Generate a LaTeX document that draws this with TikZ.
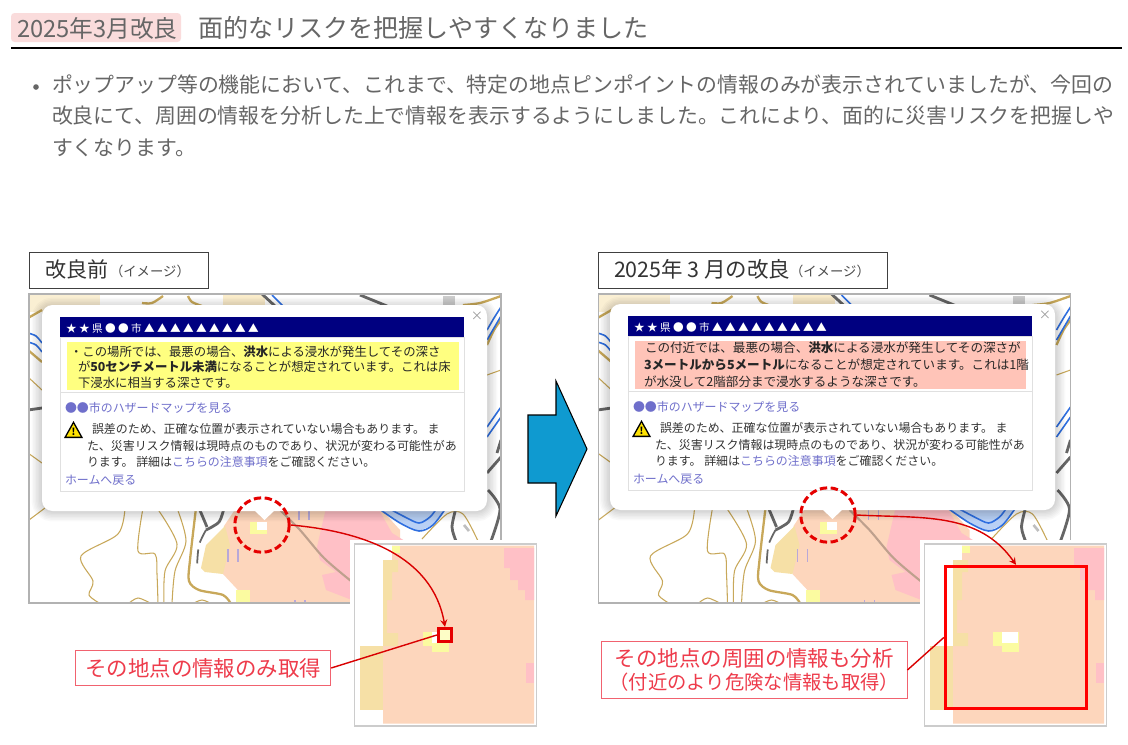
\documentclass[tikz,border=0pt]{standalone}
\usepackage{fontspec}
\setmainfont{Noto Sans CJK JP}
\usepackage{tikz}
\usetikzlibrary{positioning}
\definecolor{headgray}{HTML}{666666}
\definecolor{tagpink}{HTML}{FADCDC}
\definecolor{barnavy}{HTML}{000080}
\definecolor{linkblue}{HTML}{6F6FCB}
\definecolor{hlyellow}{HTML}{FFFF80}
\definecolor{hlpink}{HTML}{FFC4B8}
\definecolor{mapgold}{HTML}{C8A85A}
\definecolor{mapblue}{HTML}{2F6FE0}
\definecolor{maplblue}{HTML}{B9D0F5}
\definecolor{mapgray}{HTML}{666666}
\definecolor{mappeach}{HTML}{FDD6BC}
\definecolor{maptan}{HTML}{F6E0A6}
\definecolor{mappink}{HTML}{FFC0C6}
\definecolor{mapyellow}{HTML}{FBFBA0}
\definecolor{mapviolet}{HTML}{B8A8D8}
\definecolor{calloutred}{HTML}{EE3B4B}
\definecolor{arrowblue}{HTML}{0F9AD0}
\tikzset{
    txt/.style={anchor=base west,inner sep=0pt,outer sep=0pt},
    headtxt/.style={txt,text=headgray,font=\fontsize{14.26pt}{14.26pt}\selectfont},
    bodytxt/.style={txt,text=headgray,font=\fontsize{11.88pt}{11.88pt}\selectfont},
    poptxt/.style={txt,text=black!80,font=\fontsize{6.8pt}{6.8pt}\selectfont},
    hltxt/.style={txt,text=black!85,font=\fontsize{7.05pt}{7.05pt}\selectfont},
    linktxt/.style={poptxt,text=linkblue},
    labelbox/.style={draw=black!75,line width=0.55pt,anchor=north west,inner sep=0pt},
    contour/.style={draw=mapgold,line width=0.6pt},
    contourb/.style={draw=mapgold,line width=1.3pt},
    roadline/.style={draw=mapgray,line width=1.6pt},
    riverline/.style={draw=mapblue,line width=0.9pt},
    barline/.style={draw=mapviolet,line width=0.8pt},
    dashring/.style={draw=red!90!black,circle,line width=1.7pt,dash pattern=on 4.2pt off 2pt,minimum size=31pt,inner sep=0pt},
    redline/.style={draw=red!85!black,line width=0.8pt},
    calloutbox/.style={draw=calloutred!80,line width=0.5pt,fill=white,text=calloutred,inner sep=0pt},
}
\newcommand{\hazardmap}{
    \fill[white] (29,294) rectangle (501,603);
    \begin{scope}
    \clip (29,294) rectangle (501,603);
    \fill[maptan!50] (29,294) rectangle (100,312); %上の帯
    \fill[maptan!60] (223,294) rectangle (265,310);
    \fill[black!20] (443,296) rectangle (455,306);
    \fill[mappeach] (224,526)--(236,508)--(380,508)--(400,530)--(400,603)--(250,603)--(223,574)--cycle; %浸水域
    \fill[maptan] (201,568)--(206,545)--(225,526)--(230,545)--(223,574)--(205,572)--cycle;
    \fill[mappink] (317,547)--(326,508)--(378,508)--(392,533)--(405,541)--(405,603)--(352,600)--(326,590)--(322,575)--(336,572)--(320,560)--cycle;
    \fill[mapyellow] (236,590) rectangle (250,603);
    \fill[mapyellow] (250,522) rectangle (267,534); %地点
    \fill[white] (257,522) rectangle (267,530);
    \draw[line width=1.2pt,draw=black!25!mappeach] plot[smooth] coordinates {(280,510) (300,530) (324,558) (351,581)}; %道路
    \draw[contour] plot[smooth] coordinates {(125,508) (118,534) (81,556) (93,581) (89,595) (101,604)};
    \draw[contour] plot[smooth] coordinates {(143,508) (138,551) (155,554) (157,574) (158,604)};
    \draw[contour] plot[smooth] coordinates {(157,508) (177,544) (165,571) (164,604)};
    \draw[contour] plot[smooth] coordinates {(177,508) (186,541) (175,571) (172,604)};
    \draw[contourb] plot[smooth] coordinates {(196,508) (190,560) (189,581) (199,590) (223,595) (231,604)};
    \draw[contour] plot[smooth] coordinates {(29,520) (45,508)};
    \draw[contour] plot[smooth] coordinates {(128,604) (138,598) (152,604)};
    \draw[contour] plot[smooth] coordinates {(192,604) (202,600) (212,604)};
    \draw[contour] plot[smooth] coordinates {(422,539) (447,514) (463,514) (478,541)};
    \draw[contourb] plot[smooth] coordinates {(142,303) (152,303) (163,296)};
    \draw[contourb] plot[smooth] coordinates {(188,296) (192,302) (202,306)};
    \draw[contourb] plot[smooth] coordinates {(463,305) (480,303) (501,296)};
    \draw[contourb] plot[smooth] coordinates {(487,345) (494,330) (501,320)};
    \draw[contourb] plot[smooth] coordinates {(28,318) (42,310)};
    \draw[contourb] plot[smooth] coordinates {(28,350) (42,362)};
    \draw[contour] plot[smooth] coordinates {(28,377) (42,390)};
    \draw[contour] plot[smooth] coordinates {(28,453) (42,463)};
    \draw[contour] plot[smooth] coordinates {(487,375) (501,370)};
    \fill[maplblue] (378,508)--(400,523)--(419,531)--(433,525)--(446,508)--cycle; %川
    \draw[riverline] plot[smooth] coordinates {(378,508) (400,523) (419,531) (433,525) (446,508)};
    \draw[riverline] plot[smooth] coordinates {(388,508) (405,517) (419,523) (430,517) (437,508)};
    \draw[riverline] plot[smooth] coordinates {(28,333) (36,336) (42,343)};
    \draw[riverline] plot[smooth] coordinates {(28,342) (36,345) (42,352)};
    \draw[riverline] plot[smooth] coordinates {(487,330) (494,318) (501,307)};
    \draw[riverline] plot[smooth] coordinates {(487,340) (494,328) (501,316)};
    \draw[riverline] plot[smooth] coordinates {(487,427) (494,417) (501,407)};
    \draw[riverline] plot[smooth] coordinates {(487,437) (494,427) (501,417)};
    \draw[riverline] (272,295)--(283,306);
    \draw[roadline] (360,295)--(387,306);
    \draw[roadline] (262,294)--(275,306);
    \draw[roadline] (199,508)--(207,527);
    \draw[roadline] plot[smooth] coordinates {(224,508) (219,522) (206,530)};
    \draw[roadline,line width=1pt,dash pattern=on 8pt off 4pt] plot[smooth] coordinates {(206,530) (199,545) (197,566)};
    \draw[roadline] plot[smooth] coordinates {(456,508) (452,527) (456,541)};
    \draw[roadline] plot[smooth] coordinates {(488,490) (500,509) (491,541)};
    \draw[roadline] (28,410)--(42,408);
    \draw[roadline] (497,453)--(501,440);
    \draw[roadline] (487,473)--(501,457);
    \draw[line width=1.5pt,draw=black!25] (464,525)--(469,531);
    \draw[barline] (228,549)--(228,562);
    \draw[barline] (238,549)--(238,562);
    \draw[barline] (299,508)--(299,520);
    \draw[barline] (309,508)--(309,520);
    \draw[barline] (295,600)--(295,604);
    \draw[barline] (305,600)--(305,604);
    \end{scope}
    \draw[black!30,line width=0.6pt] (29,294) rectangle (501,603); %地図の枠
}
\newcommand{\popupbase}{
    \foreach \w in {3,6,...,21}
        \draw[black,opacity=0.025,line width=\w*0.5669pt,rounded corners=6pt] (42,308) rectangle (487,511); %影
    \fill[white,rounded corners=6pt] (42,305) rectangle (487,511);
    \fill[white] (254,510)--(264.5,520)--(275,510)--cycle;
    \node[text=black!40,inner sep=0pt,font=\fontsize{7pt}{7pt}\selectfont] (closex) at (477,316) {×};
    \fill[barnavy] (60,317) rectangle (464,337);
    \node[txt,text=white,font=\fontsize{6.05pt}{6.05pt}\selectfont] (placebar) at (66,332) {★ ★ 県 ● ● 市 ▲ ▲ ▲ ▲ ▲ ▲ ▲ ▲ ▲};
    \draw[black!12,line width=0.5pt] (60,337) rectangle (464,491);
    \draw[black!12,line width=0.5pt] (60,392)--(464,392);
    \node[linktxt] (maplink) at (65,412.5) {●●市のハザードマップを見る};
    \fill[black] (73.5,421)--(83,438)--(64,438)--cycle; %注意マーク
    \fill[yellow!85!orange] (73.5,424)--(80.5,436.5)--(66.5,436.5)--cycle;
    \node[inner sep=0pt,font=\fontsize{5.5pt}{5.5pt}\selectfont\bfseries] (warnmark) at (73.5,432) {!};
    \node[poptxt] (warnA) at (92,433.5) {誤差のため、正確な位置が表示されていない場合もあります。 ま};
    \node[poptxt] (warnB) at (87,450.5) {た、災害リスク情報は現時点のものであり、状況が変わる可能性があ};
    \node[poptxt] (warnC) at (87,466.5) {ります。 詳細は\textcolor{linkblue}{こちらの注意事項}をご確認ください。};
    \node[linktxt] (homelink) at (65,484.5) {ホームへ戻る};
}
\newcommand{\insetmap}{
    \fill[white] (350,540) rectangle (540,728);
    \draw[black!20,line width=0.8pt] (354.5,544) rectangle (536.5,726); %拡大図の枠
    \fill[mappeach] (383,560)--(392,560)--(392,545.5)--(534,545.5)--(534,723.5)--(383,723.5)--cycle;
    \fill[maptan] (383,560)--(398,560)--(398,572)--(392,572)--(392,600)--(387,600)--(387,633)--(398,633)--(398,646)--(383,646)--cycle;
    \fill[maptan] (360,646) rectangle (383,710);
    \fill[mapyellow] (392,545.5) rectangle (400,553);
    \fill[mappink] (504,548)--(534,548)--(534,600)--(525,600)--(525,590)--(518,590)--(518,580)--(510,580)--(510,568)--(504,568)--cycle;
    \fill[mappink] (526,663) rectangle (534,683);
    \fill[mapyellow] (423,632) rectangle (449,646);
    \fill[mapyellow] (432,646) rectangle (449,652);
    \fill[white] (432,632) rectangle (448,643);
}
\begin{document}
\begin{tikzpicture}[x=0.02cm,y=-0.02cm]
    \useasboundingbox (0,0) rectangle (1128,744);
    \fill[white] (0,0) rectangle (1128,744);
    % 見出し
    \fill[tagpink,rounded corners=2pt] (11,13) rectangle (181,42);
    \node[headtxt,font=\fontsize{13.5pt}{13.5pt}\selectfont] (tagtxt) at (17,37.5) {2025年3月改良};
    \node[headtxt] (headtxt) at (198,37.5) {面的なリスクを把握しやすくなりました};
    \draw[black,line width=1.1pt] (11,48)--(1122,48);
    \fill[headgray] (36,87) circle (1.6pt);
    \node[bodytxt] (bodyA) at (52,92) {ポップアップ等の機能において、これまで、特定の地点ピンポイントの情報のみが表示されていましたが、今回の};
    \node[bodytxt] (bodyB) at (52,123) {改良にて、周囲の情報を分析した上で情報を表示するようにしました。これにより、面的に災害リスクを把握しや};
    \node[bodytxt] (bodyC) at (52,155) {すくなります。};
    % 改良前
    \node[labelbox,minimum width=102pt,minimum height=20.4pt] (labelL) at (29,252) {};
    \node[txt,text=black!80,font=\fontsize{12pt}{12pt}\selectfont] (labelLa) at (45,277) {改良前};
    \node[txt,text=black!70,font=\fontsize{7.6pt}{7.6pt}\selectfont] (labelLb) at (110,276) {（イメージ）};
    \hazardmap
    \begin{scope}[name prefix=L]
    \popupbase
    \end{scope}
    \fill[hlyellow] (67,342) rectangle (459,390);
    \node[hltxt] (textLa) at (70,356.5) {・この場所では、最悪の場合、\textbf{洪水}による浸水が発生してその深さ};
    \node[hltxt] (textLb) at (78,371.5) {が\textbf{50センチメートル未満}になることが想定されています。これは床};
    \node[hltxt] (textLc) at (78,387.5) {下浸水に相当する深さです。};
    \insetmap
    \node[dashring] (circleL) at (262,525) {};
    \node[draw=red!90!black,line width=1.7pt,minimum size=7.6pt,inner sep=0pt,fill=mapyellow!60] (markerL) at (445,635) {};
    \node[calloutbox,minimum width=145.2pt,minimum height=19.6pt,font=\fontsize{12.2pt}{12.2pt}\selectfont] (calloutL) at (203.2,668) {その地点の情報のみ取得};
    \draw[redline,->,>=stealth] (circleL.east) to[out=-5,in=100] (markerL.north);
    \draw[redline] (calloutL.east)--(markerL.west);
    % 矢印
    \draw[black,line width=0.6pt,fill=arrowblue] (528,415)--(556,415)--(556,381)--(587,449)--(556,516)--(556,483)--(528,483)--cycle;
    % 2025年3月の改良
    \node[labelbox,minimum width=164.4pt,minimum height=20.4pt] (labelR) at (598,252) {};
    \node[txt,text=black!80,font=\fontsize{12.2pt}{12.2pt}\selectfont] (labelRa) at (614,277) {2025年 3 月の改良};
    \node[txt,text=black!70,font=\fontsize{7.6pt}{7.6pt}\selectfont] (labelRb) at (790,276) {（イメージ）};
    \begin{scope}[shift={(569.5,0)},name prefix=M]
    \hazardmap
    \end{scope}
    \begin{scope}[shift={(568,-1)},name prefix=R]
    \popupbase
    \end{scope}
    \fill[hlpink] (635,341) rectangle (1026,389);
    \node[hltxt,font=\fontsize{7.15pt}{7.15pt}\selectfont] (textRa) at (645,352.5) {この付近では、最悪の場合、\textbf{洪水}による浸水が発生してその深さが};
    \node[hltxt,font=\fontsize{7.15pt}{7.15pt}\selectfont] (textRb) at (644,369.5) {\textbf{3メートルから5メートル}になることが想定されています。これは1階};
    \node[hltxt,font=\fontsize{7.15pt}{7.15pt}\selectfont] (textRc) at (644,386.5) {が水没して2階部分まで浸水するような深さです。};
    \begin{scope}[shift={(570,0)},name prefix=I]
    \insetmap
    \end{scope}
    \node[dashring] (circleR) at (828,515) {};
    \node[draw=red,line width=1.7pt,minimum width=80.5pt,minimum height=81pt,inner sep=0pt] (bigboxR) at (1016,637.5) {};
    \node[calloutbox,minimum width=173.8pt,minimum height=32.9pt,align=center,font=\fontsize{12.2pt}{14pt}\selectfont] (calloutR) at (754.3,670) {その地点の周囲の情報も分析\\[-1pt]{\fontsize{11pt}{12pt}\selectfont （付近のより危険な情報も取得）}};
    \draw[redline,->,>=stealth] (circleR.east) to[out=-3,in=125] (bigboxR.north);
    \draw[redline] (calloutR.east)--(bigboxR.west);
\end{tikzpicture}
\end{document}
